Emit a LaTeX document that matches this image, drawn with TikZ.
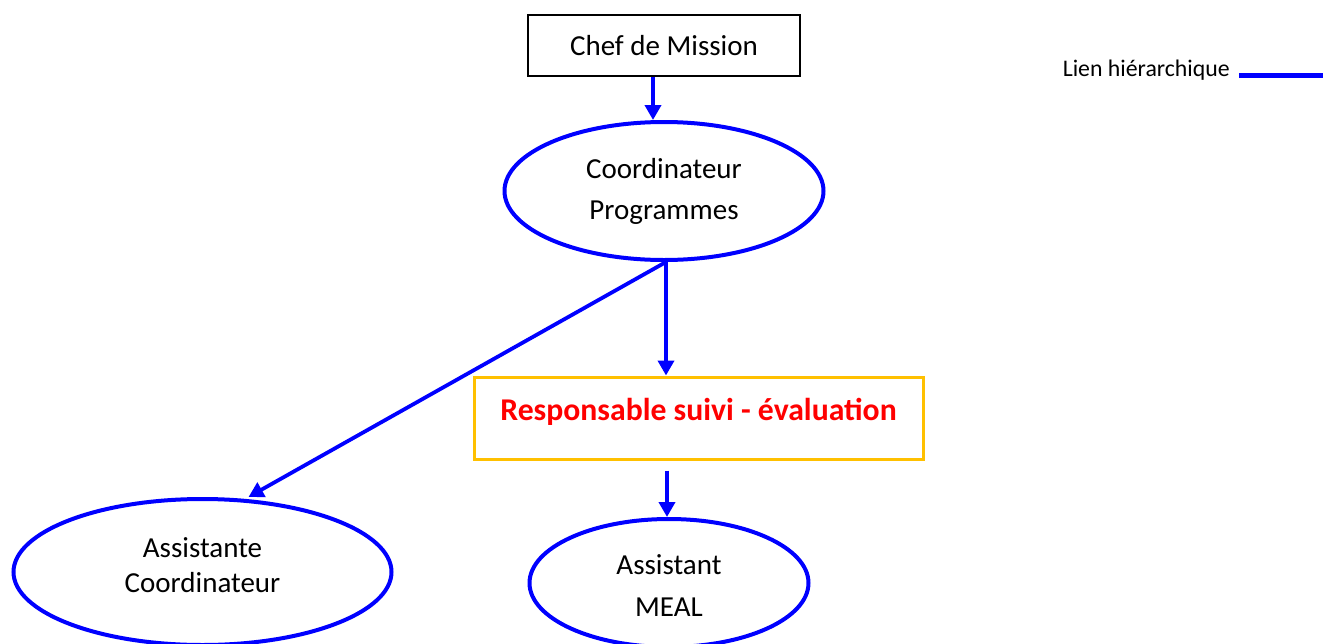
\documentclass[tikz,border=0pt]{standalone}
\usepackage{fontspec}
\setmainfont{Carlito}
\usetikzlibrary{shapes.geometric,arrows.meta,calc}
\definecolor{hblue}{RGB}{0,0,255}
\definecolor{gold}{RGB}{255,192,0}
\begin{document}
\begin{tikzpicture}[x=1pt,y=-1pt,
  chefbox/.style={draw=black, line width=1.5pt, minimum width=272pt, minimum height=61pt, inner sep=0pt, font=\fontsize{29}{35}\selectfont},
  roleell/.style={ellipse, draw=hblue, line width=4pt, inner sep=0pt, align=center},
  respbox/.style={draw=gold, line width=3pt, minimum width=449pt, minimum height=82pt, inner sep=0pt, text=red, text height=24pt, text depth=20pt, font=\bfseries\fontsize{31.7}{38}\selectfont},
  hierarrow/.style={draw=hblue, line width=3.8pt, -{Triangle[width=16pt,length=15pt]}},
  legendtext/.style={font=\fontsize{23.8}{28}\selectfont, inner sep=0pt},
  legendline/.style={draw=hblue, line width=5pt}
]
\useasboundingbox (0,0) rectangle (1323,643);

\node[chefbox] (chef) at (664,45.5) {Chef de Mission};
\node[roleell, minimum width=319pt, minimum height=138pt, font=\fontsize{29}{41}\selectfont] (coord) at (664,191) {Coordinateur\\Programmes};
\node[respbox] (resp) at (698.5,418) {Responsable suivi - évaluation};
\node[roleell, minimum width=378pt, minimum height=146pt, font=\fontsize{29}{35}\selectfont] (assist) at (202.5,572) {Assistante\\Coordinateur\rule[-13pt]{0pt}{0pt}};
\node[roleell, minimum width=279pt, minimum height=128pt, font=\fontsize{29}{42}\selectfont] (meal) at (669,583) {\rule{0pt}{25pt}Assistant\\MEAL};

\draw[hierarrow] ([xshift=-11pt]chef.south) -- ([xshift=-11pt]coord.north);
\draw[hierarrow] ([xshift=2pt]coord.south) -- ($(coord.south |- resp.north)+(2,0)$);
\draw[hierarrow] ([xshift=2pt]coord.south) -- ([xshift=46pt]assist.north);
\draw[hierarrow] ($(resp.south -| meal.north)+(-2,10)$) -- ([xshift=-2pt]meal.north);

\node[legendtext, anchor=east] (legtext) at (1230,70) {Lien hiérarchique};
\coordinate (legstart) at (1239,75);
\coordinate (legend) at (1323,75);
\draw[legendline] (legstart) -- (legend);
\end{tikzpicture}
\end{document}
